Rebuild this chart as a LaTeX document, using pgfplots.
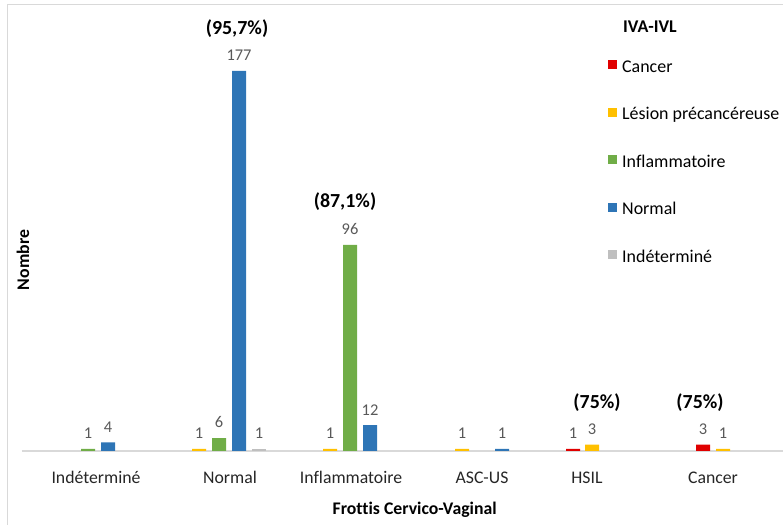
\documentclass[border=0pt]{standalone}
\usepackage{fontspec}
\setmainfont{Carlito}[Ligatures=NoCommon]
\usepackage{pgfplots}
\pgfplotsset{compat=1.18}
\definecolor{cRed}{HTML}{E00000}
\definecolor{cYel}{HTML}{FFC000}
\definecolor{cGrn}{HTML}{70AD47}
\definecolor{cBlu}{HTML}{2E75B6}
\definecolor{cGry}{HTML}{BFBFBF}
\definecolor{lbl}{HTML}{595959}
\definecolor{frame}{HTML}{D9D9D9}
\begin{document}
\begin{tikzpicture}
\useasboundingbox (0,0) rectangle (783bp,525bp);
\draw[color=frame, line width=1bp] (7bp,0) -- (7bp,520bp) -- (783bp,520bp);
\begin{axis}[
  at={(22bp,74bp)}, anchor=south west,
  scale only axis, width=761bp, height=429.4bp,
  xmin=22, xmax=783, ymin=0, ymax=200,
  clip=false,
  /pgf/number format/assume math mode=true,
  axis lines*=left,
  x axis line style={draw=frame, line width=1.3bp},
  y axis line style={draw=none},
  ytick=\empty,
  xtick={96,230,351,482,587,713},
  xticklabels={Indéterminé,Normal,Inflammatoire,ASC-US,HSIL,Cancer},
  xtick style={draw=none},
  xticklabel style={font=\fontsize{17.8}{20}\selectfont, color=black!85, anchor=base, inner sep=0pt, yshift=-28bp},
  xlabel={\textbf{Frottis Cervico-Vaginal}},
  xlabel style={at={(axis description cs:0.516,-0.137)}, anchor=center, font=\fontsize{17.8}{20}\selectfont, inner sep=0pt},
  ylabel={\textbf{Nombre}},
  ylabel style={at={(axis description cs:0.0013,0.445)}, anchor=center, rotate=0, font=\fontsize{17.8}{20}\selectfont, inner sep=0pt},
  ybar, bar width=14,
  nodes near coords,
  nodes near coords style={font=\fontsize{16.5}{18}\selectfont, color=lbl, inner sep=0pt, yshift=10bp},
  legend style={at={(0.770,0.9129)}, anchor=north west, draw=none, fill=none, inner sep=0pt,
    font=\fontsize{18}{22}\selectfont, row sep=30.5bp, column sep=5bp,
    nodes={inner sep=0pt, text height=13bp, text depth=4bp}},
  legend cell align=left,
  legend image code/.code={\fill[#1] (0bp,-1.5bp) rectangle (9bp,7.5bp);},
]
\addplot[fill=cRed, draw=none, bar shift=0pt] coordinates {(573,1) (703,3)};
\addlegendentry{Cancer}
\addplot[fill=cYel, draw=none, bar shift=0pt] coordinates {(199,1) (330,1) (462,1) (592,3) (723,1)};
\addlegendentry{Lésion précancéreuse}
\addplot[fill=cGrn, draw=none, bar shift=0pt] coordinates {(88,1) (219,6) (350,96)};
\addlegendentry{Inflammatoire}
\addplot[fill=cBlu, draw=none, bar shift=0pt] coordinates {(108,4) (239,177) (370,12) (502,1)};
\addlegendentry{Normal}
\addplot[fill=cGry, draw=none, bar shift=0pt] coordinates {(259,1)};
\addlegendentry{Indéterminé}
\node[font=\bfseries\fontsize{20}{24}\selectfont] at (axis cs:237,196.5) {(95,7\%)};
\node[font=\bfseries\fontsize{20}{24}\selectfont] at (axis cs:345,116) {(87,1\%)};
\node[font=\bfseries\fontsize{20}{24}\selectfont] at (axis cs:597,22.4) {(75\%)};
\node[font=\bfseries\fontsize{20}{24}\selectfont] at (axis cs:700,22.4) {(75\%)};
\node[font=\bfseries\fontsize{18}{22}\selectfont, anchor=west, inner sep=0pt] at (axis cs:623,197.5) {IVA-IVL};
\end{axis}
\end{tikzpicture}
\end{document}
